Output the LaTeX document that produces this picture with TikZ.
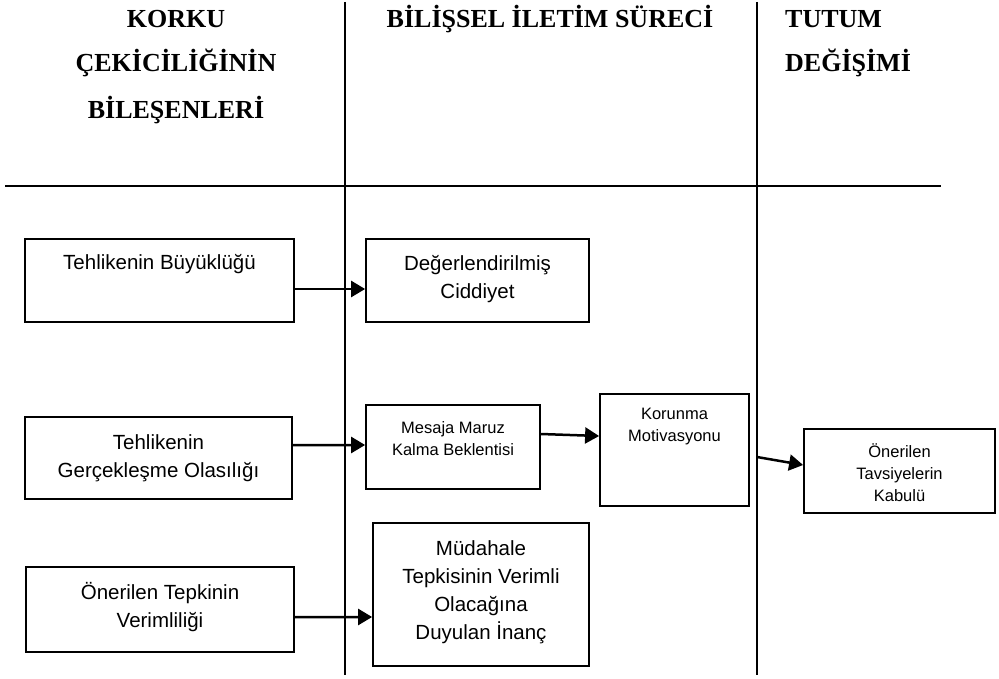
\documentclass[tikz,border=0pt]{standalone}
\usepackage{fontspec}
\setmainfont{Liberation Sans}
\newfontfamily\headfont{Liberation Serif}
\usetikzlibrary{arrows.meta}

\tikzset{
  box/.style={draw, line width=1.8bp, inner sep=0pt},
  % multi-line texts are anchored at the baseline of their last line
  txt/.style={inner sep=0pt, align=center, anchor=base,
              font=\fontsize{20.5bp}{28bp}\selectfont},
  smalltxt/.style={inner sep=0pt, align=center, anchor=base,
              font=\fontsize{16.5bp}{22bp}\selectfont},
  head/.style={inner sep=0pt, anchor=base,
              font=\headfont\bfseries\fontsize{26bp}{30bp}\selectfont},
  rule/.style={line width=2bp},
  arr/.style={line width=2.5bp, -{Triangle[length=14bp,width=16bp]}}
}

\begin{document}
\begin{tikzpicture}[x=1bp, y=-1bp]
\useasboundingbox (0,0) rectangle (999,679);

% column headings
\node[head] (h1a) at (176,27.6) {KORKU};
\node[head] (h1b) at (176,71.6) {ÇEKİCİLİĞİNİN};
\node[head] (h1c) at (176,118.6) {BİLEŞENLERİ};
\node[head] (h2) at (550,27.6) {BİLİŞSEL İLETİM SÜRECİ};
\node[head, anchor=base west] (h3a) at (785,27.6) {TUTUM};
\node[head, anchor=base west] (h3b) at (785,71.6) {DEĞİŞİMİ};

% column rules
\coordinate (v1top) at (345,2);  \coordinate (v1bot) at (345,675);
\coordinate (v2top) at (757,2);  \coordinate (v2bot) at (757,675);
\coordinate (hl) at (5,186);     \coordinate (hr) at (941,186);
\draw[rule] (v1top) -- (v1bot);
\draw[rule] (v2top) -- (v2bot);
\draw[rule, line width=2.6bp] (hl) -- (hr);

% boxes
\node[box, minimum width=269bp, minimum height=83bp]  (b1) at (159.5,280.5) {};
\node[box, minimum width=223bp, minimum height=83bp]  (b2) at (477.5,280.5) {};
\node[box, minimum width=267bp, minimum height=82bp]  (b3) at (158.5,458) {};
\node[box, minimum width=174bp, minimum height=84bp]  (b4) at (453,447) {};
\node[box, minimum width=149bp, minimum height=112bp] (b5) at (674.5,450) {};
\node[box, minimum width=191bp, minimum height=84bp]  (b6) at (899.5,471) {};
\node[box, minimum width=268bp, minimum height=85bp]  (b7) at (160,609.5) {};
\node[box, minimum width=216bp, minimum height=143bp] (b8) at (481,594.5) {};

% box texts
\node[txt] (t1) at (159.5,269) {Tehlikenin Büyüklüğü};
\node[txt] (t2) at (477.5,298) {Değerlendirilmiş\\Ciddiyet};
\node[txt] (t3) at (158.5,477) {Tehlikenin\\Gerçekleşme Olasılığı};
\node[smalltxt] (t4) at (453,455) {Mesaja Maruz\\Kalma Beklentisi};
\node[smalltxt] (t5) at (674.5,441) {Korunma\\Motivasyonu};
\node[smalltxt] (t6) at (899.5,501) {Önerilen\\Tavsiyelerin\\Kabulü};
\node[txt] (t7) at (160,627) {Önerilen Tepkinin\\Verimliliği};
\node[txt] (t8) at (481,639) {Müdahale\\Tepkisinin Verimli\\Olacağına\\Duyulan İnanç};

% connectors
\draw[arr] ([yshift=-8.5bp]b1.east) -- ([yshift=-8.5bp]b2.west);
\draw[arr] ([yshift=13bp]b3.east) -- ([yshift=2bp]b4.west);
\draw[arr] ([yshift=13bp]b4.east) -- ([yshift=14bp]b5.west);
\coordinate (a4s) at (757,457);
\draw[arr] (a4s) -- ([yshift=6bp]b6.west);
\draw[arr] ([yshift=-7.5bp]b7.east) -- ([yshift=-22.5bp]b8.west);
\end{tikzpicture}
\end{document}
